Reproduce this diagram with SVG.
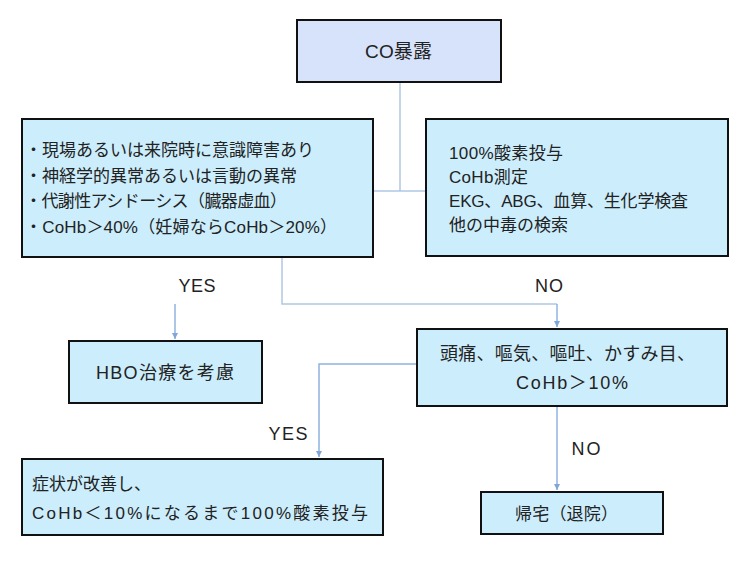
<svg xmlns="http://www.w3.org/2000/svg" width="750" height="561" viewBox="0 0 750 561">
<defs>
<style>
.box{fill:#ccedfc;stroke:#111;stroke-width:2}
.top{fill:#d6e3fb;stroke:#111;stroke-width:2}
text{font-family:"Liberation Sans","Noto Sans CJK JP",sans-serif;font-size:17px;fill:#222;dominant-baseline:central}
.c{text-anchor:middle}
.lb{font-size:18px}
.ln{fill:none;stroke:#aec8e3;stroke-width:1.5}
.ar{fill:none;stroke:#8fb3de;stroke-width:1.5;marker-end:url(#ah)}
</style>
<marker id="ah" markerWidth="8" markerHeight="8" refX="6" refY="3" orient="auto" markerUnits="userSpaceOnUse">
<path d="M0,0 L6,3 L0,6 z" fill="#7ea6d8"/>
</marker>
</defs>
<rect width="750" height="561" fill="#fff"/>
<g id="connectors">
<path class="ln" d="M400,82 V191 M373,191 H427"/>
<path class="ln" d="M282,257 V304 H557"/>
<path class="ar" d="M175,304 V339"/>
<path class="ar" d="M557,304 V327"/>
<path class="ar" d="M417,364 H319 V457"/>
<path class="ar" d="M557,406 V490"/>
<text x="197" y="286" class="c lb" textLength="37">YES</text>
<text x="549" y="286" class="c lb" textLength="28">NO</text>
<text x="288" y="434" class="c lb" textLength="39">YES</text>
<text x="586" y="449" class="c lb" textLength="29">NO</text>
</g>
<g id="n-co">
<rect class="top" x="297" y="20" width="204" height="62"/>
<text x="398.5" y="51" class="c" style="font-size:19px" textLength="67">CO暴露</text>
</g>
<g id="n-criteria">
<rect class="box" x="22" y="119" width="351" height="138"/>
<text x="25" y="150">・現場あるいは来院時に意識障害あり</text>
<text x="25" y="176">・神経学的異常あるいは言動の異常</text>
<text x="25" y="201" textLength="262">・代謝性アシドーシス（臓器虚血）</text>
<text x="25" y="227" textLength="312">・CoHb＞40%（妊婦ならCoHb＞20%）</text>
</g>
<g id="n-initial">
<rect class="box" x="426" y="119" width="302" height="137"/>
<text x="449" y="153" textLength="114">100%酸素投与</text>
<text x="449" y="177" textLength="79">CoHb測定</text>
<text x="449" y="201" textLength="239">EKG、ABG、血算、生化学検査</text>
<text x="449" y="225">他の中毒の検索</text>
</g>
<g id="n-hbo">
<rect class="box" x="69" y="341" width="193" height="62"/>
<text x="165" y="373" class="c" style="font-size:18px" textLength="138">HBO治療を考慮</text>
</g>
<g id="n-symptoms">
<rect class="box" x="417" y="329" width="310" height="77"/>
<text x="567.5" y="354" class="c" style="font-size:18px" textLength="255">頭痛、嘔気、嘔吐、かすみ目、</text>
<text x="572" y="383" class="c" style="font-size:18px" textLength="112">CoHb＞10%</text>
</g>
<g id="n-oxygen">
<rect class="box" x="22" y="459" width="361" height="76"/>
<text x="32" y="484">症状が改善し、</text>
<text x="32" y="513" textLength="336">CoHb＜10%になるまで100%酸素投与</text>
</g>
<g id="n-home">
<rect class="box" x="481" y="492" width="182" height="42"/>
<text x="566.5" y="514" class="c" textLength="103">帰宅（退院）</text>
</g>
</svg>
